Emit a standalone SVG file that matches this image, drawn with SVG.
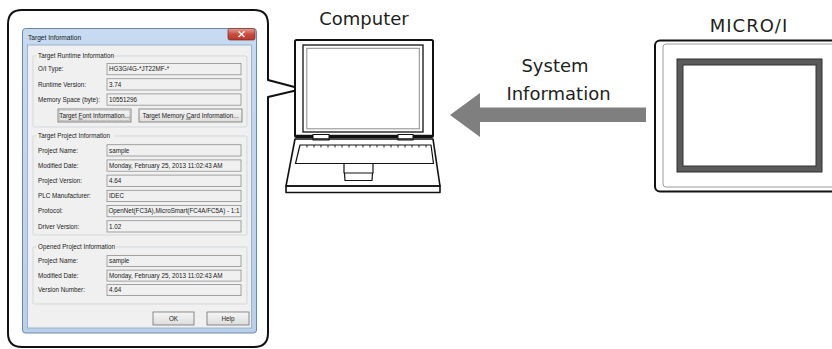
<svg xmlns="http://www.w3.org/2000/svg" width="832" height="349" viewBox="0 0 832 349">
  <defs>
    <linearGradient id="frameGrad" x1="0" y1="0" x2="0" y2="1">
      <stop offset="0" stop-color="#c6daf1"/>
      <stop offset="1" stop-color="#b9d0ea"/>
    </linearGradient>
    <linearGradient id="closeGrad" x1="0" y1="0" x2="0" y2="1">
      <stop offset="0" stop-color="#e3a097"/>
      <stop offset="0.5" stop-color="#cc4b3f"/>
      <stop offset="1" stop-color="#b8362b"/>
    </linearGradient>
    <linearGradient id="btnGrad" x1="0" y1="0" x2="0" y2="1">
      <stop offset="0" stop-color="#f6f6f6"/>
      <stop offset="1" stop-color="#dddddd"/>
    </linearGradient>
  </defs>
  <style>
    .lbl { font-family: "DejaVu Sans", Verdana, sans-serif; font-size: 18px; fill: #231f20; }
    .ui { font-family: "Liberation Sans", Arial, sans-serif; font-size: 6.3px; fill: #1a1a1a; }
    .grp { fill: none; stroke: #d3d8dc; stroke-width: 1; }
    .grpTitle { fill: #f0f0f0; }
    .field { fill: #f0f0f0; stroke: #8f8f8f; stroke-width: 0.8; }
    .btn { fill: url(#btnGrad); stroke: #707070; stroke-width: 0.8; }
    .ink { fill: none; stroke: #111; stroke-linejoin: round; }
  </style>

  <!-- callout bubble around the dialog, pointing at the laptop screen -->
  <g id="callout">
    <path class="ink" stroke-width="2" fill="#fff"
          d="M22,10 H254 Q268,10 268,24 V80 L302,89 L268,97 V333 Q268,347 254,347 H22 Q8,347 8,333 V24 Q8,10 22,10 Z"/>
  </g>

  <!-- Target Information dialog -->
  <g id="dialog">
    <rect x="22.5" y="28.5" width="234" height="304.5" rx="3" fill="url(#frameGrad)" stroke="#6c87a6" stroke-width="1"/>
    <text class="ui" x="28" y="39.5" style="font-size:6.6px">Target Information</text>
    <rect x="228" y="28.5" width="27" height="11.5" rx="2" fill="url(#closeGrad)" stroke="#7a2a22" stroke-width="0.7"/>
    <path d="M238.5,31.5 L244.5,37 M244.5,31.5 L238.5,37" stroke="#fff" stroke-width="1.4"/>
    <rect x="27.5" y="45" width="224" height="283" fill="#f0f0f0" stroke="#8ea6c2" stroke-width="0.8"/>

    <!-- Target Runtime Information -->
    <rect class="grp" x="33" y="56" width="214" height="71" rx="1"/>
    <rect class="grpTitle" x="36" y="53" width="74" height="6"/>
    <text class="ui" x="38" y="58.3">Target Runtime Information</text>

    <text class="ui" x="38" y="71.4">O/I Type:</text>
    <rect class="field" x="107" y="63.5" width="134" height="11.3"/>
    <text class="ui" x="109" y="71.4">HG3G/4G-*JT22MF-*</text>

    <text class="ui" x="38" y="86.6">Runtime Version:</text>
    <rect class="field" x="107" y="78.7" width="134" height="11.3"/>
    <text class="ui" x="109" y="86.6">3.74</text>

    <text class="ui" x="38" y="101.8">Memory Space (byte):</text>
    <rect class="field" x="107" y="93.9" width="134" height="11.3"/>
    <text class="ui" x="109" y="101.8">10551296</text>

    <rect class="btn" x="58" y="109" width="73" height="13" stroke="#333"/>
    <rect x="59.5" y="110.5" width="70" height="10" fill="none" stroke="#555" stroke-width="0.4" stroke-dasharray="0.6 0.6"/>
    <text class="ui" x="94.5" y="117.7" text-anchor="middle">Target <tspan text-decoration="underline">F</tspan>ont Information...</text>
    <rect class="btn" x="139" y="109" width="103" height="13"/>
    <text class="ui" x="190.5" y="117.7" text-anchor="middle">Target Memory <tspan text-decoration="underline">C</tspan>ard Information...</text>

    <!-- Target Project Information -->
    <rect class="grp" x="33" y="136" width="214" height="99" rx="1"/>
    <rect class="grpTitle" x="36" y="133" width="78" height="6"/>
    <text class="ui" x="38" y="138.3">Target Project Information</text>

    <text class="ui" x="38" y="152.5">Project Name:</text>
    <rect class="field" x="107" y="144.7" width="134" height="11.3"/>
    <text class="ui" x="109" y="152.5">sample</text>

    <text class="ui" x="38" y="167.7">Modified Date:</text>
    <rect class="field" x="107" y="159.9" width="134" height="11.3"/>
    <text class="ui" x="109" y="167.7">Monday, February 25, 2013 11:02:43 AM</text>

    <text class="ui" x="38" y="182.9">Project Version:</text>
    <rect class="field" x="107" y="175.1" width="134" height="11.3"/>
    <text class="ui" x="109" y="182.9">4.64</text>

    <text class="ui" x="38" y="198.1">PLC Manufacturer:</text>
    <rect class="field" x="107" y="190.3" width="134" height="11.3"/>
    <text class="ui" x="109" y="198.1">IDEC</text>

    <text class="ui" x="38" y="213.3">Protocol:</text>
    <rect class="field" x="107" y="205.5" width="134" height="11.3"/>
    <text class="ui" x="108.5" y="213.3" textLength="131" lengthAdjust="spacingAndGlyphs">OpenNet(FC3A),MicroSmart(FC4A/FC5A) - 1:1</text>

    <text class="ui" x="38" y="228.5">Driver Version:</text>
    <rect class="field" x="107" y="220.7" width="134" height="11.3"/>
    <text class="ui" x="109" y="228.5">1.02</text>

    <!-- Opened Project Information -->
    <rect class="grp" x="33" y="247" width="214" height="57" rx="1"/>
    <rect class="grpTitle" x="36" y="244" width="80" height="6"/>
    <text class="ui" x="38" y="249.3">Opened Project Information</text>

    <text class="ui" x="38" y="263.4">Project Name:</text>
    <rect class="field" x="107" y="255.6" width="134" height="11"/>
    <text class="ui" x="109" y="263.4">sample</text>

    <text class="ui" x="38" y="277.9">Modified Date:</text>
    <rect class="field" x="107" y="270.1" width="134" height="11"/>
    <text class="ui" x="109" y="277.9">Monday, February 25, 2013 11:02:43 AM</text>

    <text class="ui" x="38" y="292.4">Version Number:</text>
    <rect class="field" x="107" y="284.6" width="134" height="11"/>
    <text class="ui" x="109" y="292.4">4.64</text>

    <rect class="btn" x="153" y="312" width="41" height="13"/>
    <text class="ui" x="173.5" y="320.7" text-anchor="middle">OK</text>
    <rect class="btn" x="207" y="312" width="42" height="13"/>
    <text class="ui" x="228" y="320.7" text-anchor="middle">Help</text>
  </g>

  <!-- laptop -->
  <g id="computer">
    <text class="lbl" x="364" y="25" text-anchor="middle">Computer</text>
    <rect x="295" y="40" width="138" height="97" rx="1.5" fill="#fff" stroke="#111" stroke-width="2"/>
    <rect x="303" y="45" width="120" height="87" fill="none" stroke="#222" stroke-width="1.4"/>
    <rect x="306.8" y="48.3" width="112.5" height="80.5" fill="none" stroke="#8a8a8a" stroke-width="1"/>
    <line x1="296" y1="136" x2="432" y2="136" stroke="#111" stroke-width="2.5"/>
    <rect x="313" y="134.5" width="16" height="5.5" fill="#fff" stroke="#111" stroke-width="1"/>
    <rect x="398" y="134.5" width="15" height="5.5" fill="#fff" stroke="#111" stroke-width="1"/>
    <path class="ink" stroke-width="1.6" fill="#fff" d="M295,139 H433 L440,186 H286 Z"/>
    <path class="ink" stroke-width="1.6" fill="#fff" d="M286,186 H440 V192.5 H286 Z"/>
    <path class="ink" stroke-width="1.2" d="M300,145 H431 L433.5,163.5 H295.5 Z"/>
    <path stroke="#111" stroke-width="0.9"
          d="M307,145 v2.5 M314,145 v2.5 M321,145 v2.5 M328,145 v2.5 M335,145 v2.5 M342,145 v2.5 M349,145 v2.5 M356,145 v2.5 M363,145 v2.5 M370,145 v2.5 M377,145 v2.5 M384,145 v2.5 M391,145 v2.5 M398,145 v2.5 M405,145 v2.5 M412,145 v2.5 M419,145 v2.5 M426,145 v2.5"/>
    <path class="ink" stroke-width="1.2" d="M344,163.5 H373 V173 H344 Z M344.5,173 H372.5 L372,180.5 H345 Z"/>
  </g>

  <!-- data flow from the MICRO/I to the computer -->
  <g id="connectors">
    <polygon points="450,115 480,93 480,107.5 646,107.5 646,122 480,122 480,137" fill="#7f7f7f"/>
    <text class="lbl" x="555" y="72" text-anchor="middle">System</text>
    <text class="lbl" x="558.5" y="100" text-anchor="middle">Information</text>
  </g>

  <!-- MICRO/I operator interface -->
  <g id="micro-i">
    <text class="lbl" x="749" y="31.5" text-anchor="middle" letter-spacing="1">MICRO/I</text>
    <rect x="655" y="40.5" width="200" height="151" rx="5" fill="#fff" stroke="#111" stroke-width="2"/>
    <rect x="663" y="44" width="190" height="143" rx="3" fill="none" stroke="#9a9a9a" stroke-width="1"/>
    <rect x="677" y="59" width="145" height="113" fill="#5a5a5a" stroke="#2e2e2e" stroke-width="1"/>
    <rect x="683" y="65" width="133" height="101" fill="#fff" stroke="#333" stroke-width="1"/>
  </g>
</svg>
